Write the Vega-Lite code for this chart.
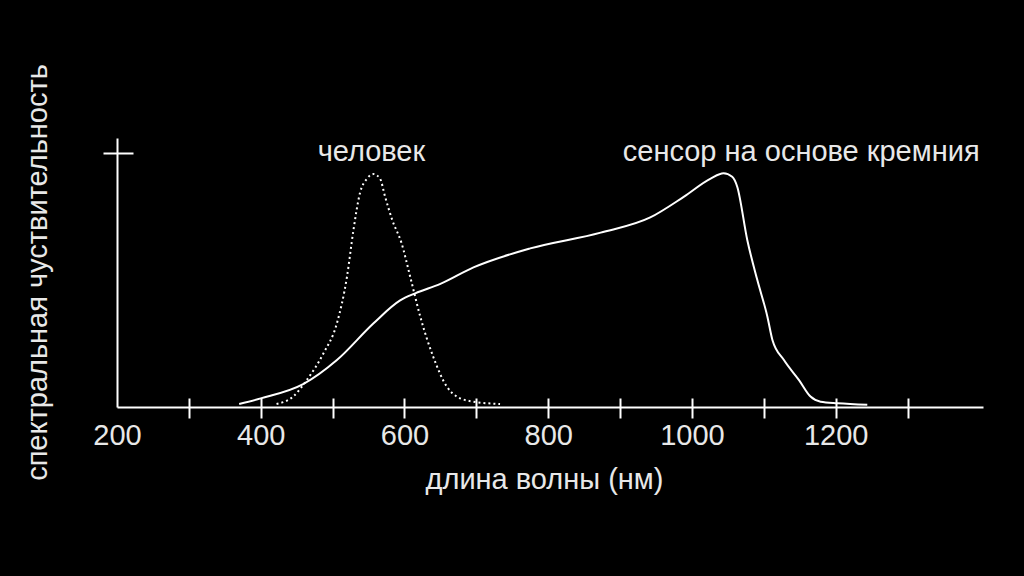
{
  "$schema": "https://vega.github.io/schema/vega-lite/v6.json",
  "width": 866,
  "height": 269,
  "autosize": "none",
  "padding": {"left": 117, "top": 138, "right": 41, "bottom": 169},
  "background": "black",
  "config": {
    "view": {"stroke": null},
    "font": "Liberation Sans",
    "axis": {
      "domainColor": "white",
      "domainWidth": 2,
      "tickColor": "white",
      "tickWidth": 2,
      "grid": false,
      "labelColor": "#e8e8e8",
      "titleColor": "#e8e8e8",
      "labelFont": "Liberation Sans",
      "titleFont": "Liberation Sans",
      "labelFontSize": 29,
      "titleFontSize": 29,
      "titleFontWeight": "normal"
    }
  },
  "datasets": {
    "silicon": [
      {"nm": 370, "s": 0.012},
      {"nm": 400, "s": 0.034},
      {"nm": 459, "s": 0.09},
      {"nm": 506, "s": 0.185},
      {"nm": 557, "s": 0.33},
      {"nm": 594, "s": 0.42},
      {"nm": 615, "s": 0.448},
      {"nm": 650, "s": 0.485},
      {"nm": 696, "s": 0.55},
      {"nm": 775, "s": 0.625},
      {"nm": 873, "s": 0.687},
      {"nm": 942, "s": 0.747},
      {"nm": 989, "s": 0.829},
      {"nm": 1026, "s": 0.9},
      {"nm": 1044, "s": 0.921},
      {"nm": 1056, "s": 0.907},
      {"nm": 1063, "s": 0.868},
      {"nm": 1077, "s": 0.658},
      {"nm": 1091, "s": 0.5},
      {"nm": 1105, "s": 0.356},
      {"nm": 1112, "s": 0.264},
      {"nm": 1128, "s": 0.185},
      {"nm": 1149, "s": 0.106},
      {"nm": 1165, "s": 0.041},
      {"nm": 1179, "s": 0.021},
      {"nm": 1203, "s": 0.015},
      {"nm": 1244, "s": 0.009}
    ],
    "human": [
      {"nm": 422, "s": 0.012},
      {"nm": 445, "s": 0.041},
      {"nm": 464, "s": 0.106},
      {"nm": 487, "s": 0.21},
      {"nm": 506, "s": 0.33},
      {"nm": 520, "s": 0.513},
      {"nm": 529, "s": 0.697},
      {"nm": 538, "s": 0.842},
      {"nm": 548, "s": 0.9},
      {"nm": 557, "s": 0.918},
      {"nm": 566, "s": 0.9},
      {"nm": 573, "s": 0.829},
      {"nm": 583, "s": 0.737},
      {"nm": 596, "s": 0.645},
      {"nm": 608, "s": 0.513},
      {"nm": 622, "s": 0.356},
      {"nm": 640, "s": 0.198},
      {"nm": 659, "s": 0.08},
      {"nm": 673, "s": 0.041},
      {"nm": 696, "s": 0.021},
      {"nm": 733, "s": 0.012}
    ],
    "labels": [
      {"nm": 554, "s": 0.969, "label": "человек"},
      {"nm": 1152, "s": 0.969, "label": "сенсор на основе кремния"}
    ]
  },
  "resolve": {"axis": {"x": "independent", "y": "independent"}},
  "layer": [
    {
      "data": {"name": "silicon"},
      "mark": {"type": "line", "color": "white", "strokeWidth": 2, "interpolate": "monotone"},
      "encoding": {
        "x": {
          "field": "nm",
          "type": "quantitative",
          "scale": {"domain": [200, 1405], "nice": false, "zero": false},
          "axis": {
            "orient": "bottom",
            "title": "длина волны (нм)",
            "titleX": 427,
            "titleY": 81,
            "titleAlign": "center",
            "titleBaseline": "alphabetic",
            "values": [200, 300, 400, 500, 600, 700, 800, 900, 1000, 1100, 1200, 1300],
            "labelExpr": "datum.value % 200 === 0 ? datum.label : ''",
            "format": "d",
            "tickSize": 11,
            "tickOpacity": {"condition": {"test": "datum.value === 200", "value": 0}, "value": 1},
            "labelPadding": 26,
            "labelBaseline": "alphabetic",
            "labelFlush": false,
            "labelOverlap": false
          }
        },
        "y": {
          "field": "s",
          "type": "quantitative",
          "scale": {"domain": [0, 1.06], "nice": false},
          "axis": {
            "orient": "left",
            "title": "спектральная чуствительность",
            "titleX": -71,
            "titleY": 134,
            "titleAngle": 270,
            "titleAlign": "center",
            "titleBaseline": "alphabetic",
            "values": [1],
            "labels": false,
            "tickSize": 14
          }
        }
      }
    },
    {
      "data": {"name": "human"},
      "mark": {"type": "line", "color": "white", "strokeWidth": 2, "strokeDash": [2, 3], "interpolate": "monotone"},
      "encoding": {
        "x": {
          "field": "nm",
          "type": "quantitative",
          "axis": {
            "orient": "bottom",
            "title": null,
            "values": [300, 400, 500, 600, 700, 800, 900, 1000, 1100, 1200, 1300],
            "labels": false,
            "domain": false,
            "tickSize": -9
          }
        },
        "y": {
          "field": "s",
          "type": "quantitative",
          "axis": {
            "orient": "left",
            "title": null,
            "values": [1],
            "labels": false,
            "domain": false,
            "tickSize": -16
          }
        }
      }
    },
    {
      "data": {"name": "labels"},
      "mark": {"type": "text", "color": "#e8e8e8", "fontSize": 29, "font": "Liberation Sans", "align": "center", "baseline": "alphabetic"},
      "encoding": {
        "x": {"field": "nm", "type": "quantitative", "axis": null},
        "y": {"field": "s", "type": "quantitative", "axis": null},
        "text": {"field": "label", "type": "nominal"}
      }
    }
  ]
}
